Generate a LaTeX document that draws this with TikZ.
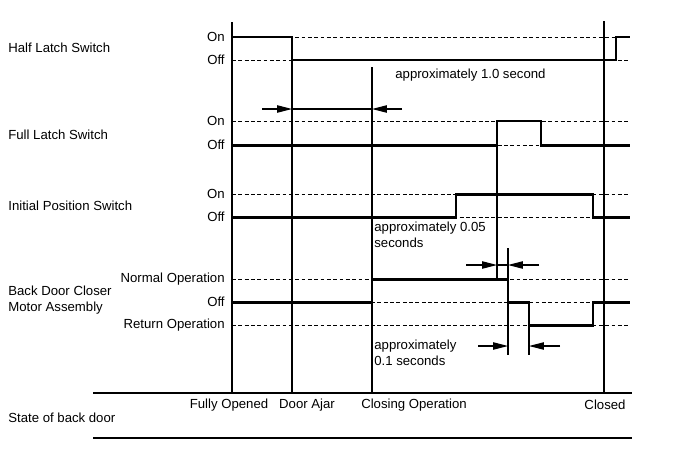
\documentclass[tikz,border=0pt]{standalone}
\usepackage{fontspec}
\setmainfont{Liberation Sans}
\usetikzlibrary{arrows.meta}
\tikzset{sig/.style = {line width=1.7pt}}
\tikzset{lvl/.style = {dash pattern=on 2.2pt off 1.4pt, line width=0.5pt}}
\tikzset{mark line/.style = {line width=0.6pt}}
\tikzset{dim/.style = {line width=0.6pt, -{Triangle[length=8.5pt, width=4.2pt]}}}
\tikzset{lbl/.style = {font=\fontsize{7.5}{9}\selectfont, inner sep=0}}

\begin{document}
\begin{tikzpicture}[x=0.02cm, y=-0.02cm]
    \useasboundingbox (0, 0) rectangle (690, 464);

    % signal names
    \node [lbl, anchor=west] (halfname) at (8, 48) {Half Latch Switch};
    \node [lbl, anchor=west] (fullname) at (8, 135) {Full Latch Switch};
    \node [lbl, anchor=west] (initname) at (8, 206) {Initial Position Switch};
    \node [lbl, anchor=west, align=left] (motorname) at (8, 300) {Back Door Closer\\Motor Assembly};
    \node [lbl, anchor=west] (statename) at (8, 418) {State of back door};

    % levels
    \foreach \y/\t/\n in {37/On/hon, 60/Off/hoff, 121/On/fon, 145/Off/foff, 194/On/ion, 217/Off/ioff,
                          279/Normal Operation/mnorm, 302/Off/moff, 325/Return Operation/mret} {
      \node [lbl, anchor=east] (\n) at (225, \y) {\t};
      \draw [lvl] (232, \y) -- (629, \y);
    }

    % time markers
    \draw [mark line] (232, 22) -- (232, 393);
    \draw [mark line] (292, 37) -- (292, 393);
    \draw [mark line] (372, 67) -- (372, 393);
    \draw [mark line] (604, 21) -- (604, 393);
    \draw [mark line] (497, 121) -- (497, 279);
    \draw [mark line] (508, 248) -- (508, 355);
    \draw [mark line] (529, 325) -- (529, 355);

    % signals
    \draw [sig] (232, 37) -- (292, 37) -- (292, 60) -- (616, 60) -- (616, 37) -- (630, 37);
    \draw [sig] (232, 145) -- (497, 145) -- (497, 121) -- (541, 121) -- (541, 145) -- (630, 145);
    \draw [sig] (232, 217) -- (456, 217) -- (456, 194) -- (593, 194) -- (593, 217) -- (630, 217);
    \draw [sig] (232, 302) -- (372, 302) -- (372, 279) -- (508, 279) -- (508, 302) -- (529, 302)
                -- (529, 325) -- (593, 325) -- (593, 302) -- (630, 302);

    % durations
    \draw [mark line] (292, 109) -- (372, 109);
    \draw [dim] (262, 109) -- (292, 109);
    \draw [dim] (402, 109) -- (372, 109);
    \node [lbl, anchor=west] (onesec) at (395, 75) {approximately 1.0 second};

    \draw [mark line] (497, 265) -- (508, 265);
    \draw [dim] (466, 265) -- (497, 265);
    \draw [dim] (539, 265) -- (508, 265);
    \node [lbl, anchor=north west, align=left, font=\fontsize{7.5}{8.7}\selectfont] (fivems) at (374, 222) {approximately 0.05\\seconds};

    \draw [dim] (478, 346) -- (508, 346);
    \draw [dim] (560, 346) -- (529, 346);
    \node [lbl, anchor=north west, align=left] (tenths) at (374, 340) {approximately\\0.1 seconds};

    % door state
    \draw [mark line] (93, 393) -- (632, 393);
    \draw [mark line] (93, 438) -- (632, 438);
    \node [lbl] (fully) at (229, 405) {Fully Opened};
    \node [lbl] (ajar) at (307, 405) {Door Ajar};
    \node [lbl] (closing) at (414, 405) {Closing Operation};
    \node [lbl] (closed) at (605, 405) {Closed};
\end{tikzpicture}
\end{document}
